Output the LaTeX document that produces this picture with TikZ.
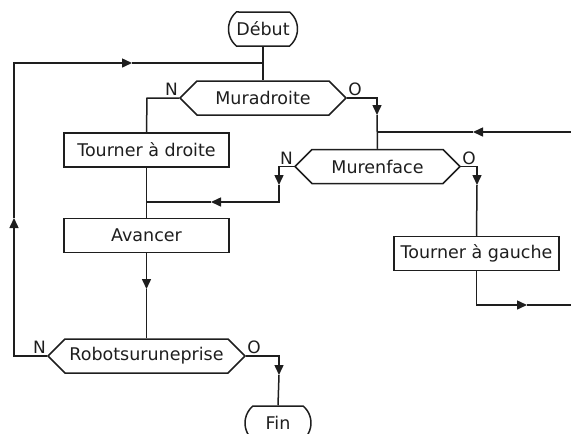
\documentclass[tikz,border=0pt]{standalone}
\usepackage{fontspec}
\newfontfamily\dejavu{DejaVu Sans}
\usetikzlibrary{shapes.misc,shapes.symbols,arrows.meta}
\definecolor{ink}{HTML}{1E1E1E}
\begin{document}
\begin{tikzpicture}[x=1pt,y=-1pt]
\tikzset{
 base/.style={draw=ink, line width=1.5pt, text=ink, font=\dejavu\fontsize{17.5}{21}\selectfont},
 proc/.style={base, rectangle, minimum width=165pt, minimum height=34pt, inner sep=0pt},
 test/.style={base, signal, signal to=west and east, signal pointer angle=90, minimum height=34pt, inner sep=0pt},
 term/.style={base, rounded rectangle, rounded rectangle arc length=100, minimum height=34pt, inner sep=0pt},
 line/.style={draw=ink, line width=1.5pt},
 tip/.style={line, -{Triangle[length=10pt,width=9pt]}},
 lab/.style={text=ink, inner sep=0pt, font=\dejavu\fontsize{17}{20}\selectfont}
}
\useasboundingbox (0,0) rectangle (571,434);

% nodes
\node[term, minimum width=69pt] (debut) at (263,29) {Début};
\node[test, minimum width=166pt] (mur) at (263,98) {Muradroite};
\node[proc] (td) at (146.5,150) {Tourner à droite};
\node[test, minimum width=165pt] (face) at (377.5,166.5) {Murenface};
\node[proc] (av) at (146.5,235.5) {Avancer};
\node[proc] (tg) at (476.5,253.5) {Tourner à gauche};
\node[test, minimum width=197pt] (rob) at (146.5,356) {Robotsuruneprise};
\node[term, minimum width=66pt] (fin) at (278,423) {Fin};

% labels
\node[lab, anchor=south east] (n1) at ([xshift=-1pt,yshift=2pt]mur.west) {N};
\node[lab, anchor=south west] (o1) at ([xshift=1pt,yshift=2pt]mur.east) {O};
\node[lab, anchor=south east] (n2) at ([xshift=-1pt,yshift=2pt]face.west) {N};
\node[lab, anchor=south west] (o2) at ([xshift=1pt,yshift=2pt]face.east) {O};
\node[lab, anchor=south east] (n3) at ([xshift=-1pt,yshift=2pt]rob.west) {N};
\node[lab, anchor=south west] (o3) at ([xshift=1pt,yshift=2pt]rob.east) {O};

% coordinates
\coordinate (j1) at (263,63);
\coordinate (l1) at (14,356);
\coordinate (a2) at (14,218);
\coordinate (l2) at (14,63);
\coordinate (a1) at (132,63);
\coordinate (m1) at (147,98);
\coordinate (m2) at (377,98);
\coordinate (a3) at (377,115);
\coordinate (j2) at (377,132);
\coordinate (r1) at (590,132);
\coordinate (a4) at (473,132);
\coordinate (f1) at (279,166.5);
\coordinate (a5) at (279,185);
\coordinate (f2) at (279,202);
\coordinate (a6) at (211,202);
\coordinate (j3) at (146.5,202);
\coordinate (f3) at (477,166.5);
\coordinate (a7) at (477,185);
\coordinate (g1) at (476.5,305);
\coordinate (a8) at (527,305);
\coordinate (r2) at (590,305);
\coordinate (a9) at (146.5,289);
\coordinate (o1c) at (279,356);
\coordinate (a10) at (279,375);

% connectors
\draw[line] (debut.south) -- (j1) -- (mur.north);
\draw[tip] (rob.west) -- (l1) -- (a2);
\draw[tip] (a2) -- (l2) -- (a1);
\draw[line] (a1) -- (j1);
\draw[line] (mur.west) -- (m1) -- (td.north);
\draw[tip] (mur.east) -- (m2) -- (a3);
\draw[line] (a3) -- (face.north);
\draw[line] (r2) -- (r1);
\draw[tip] (r1) -- (a4);
\draw[line] (a4) -- (j2);
\draw[tip] (face.west) -- (f1) -- (a5);
\draw[tip] (a5) -- (f2) -- (a6);
\draw[line] (a6) -- (j3);
\draw[line] (td.south) -- (av.north);
\draw[tip] (face.east) -- (f3) -- (a7);
\draw[line] (a7) -- (tg.north);
\draw[tip] (tg.south) -- (g1) -- (a8);
\draw[line] (a8) -- (r2);
\draw[tip] (av.south) -- (a9);
\draw[line] (a9) -- (rob.north);
\draw[tip] (rob.east) -- (o1c) -- (a10);
\draw[line] (a10) -- (fin.north);
\end{tikzpicture}
\end{document}
